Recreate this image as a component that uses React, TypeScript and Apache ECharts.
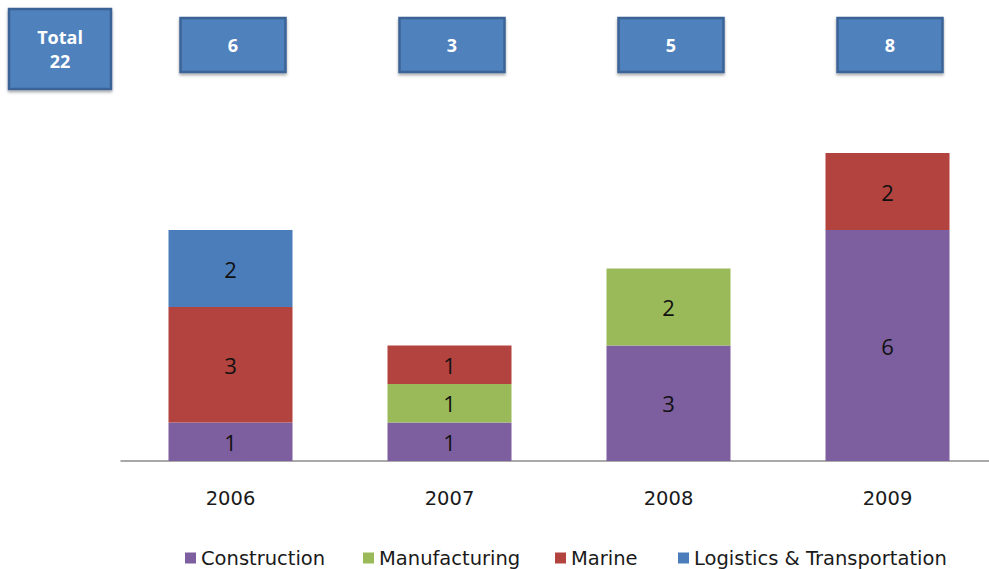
import React, { useEffect, useRef } from "react";
import * as echarts from "echarts";

const categories = ["2006", "2007", "2008", "2009"];
const construction = [1, 1, 3, 6];
const manufacturing = [null, 1, 2, null];
const marine = [3, 1, null, 2];
const logistics = [2, null, null, null];
const seriesNames = ["Construction", "Manufacturing", "Marine", "Logistics & Transportation"];
const colors = ["#7D5FA0", "#9ABA59", "#B3433F", "#4B7DBA"];
const legendLefts = [185, 363, 555, 678];

export default function App() {
  const ref = useRef<HTMLDivElement>(null);
  useEffect(() => {
    if (!ref.current) return;
    const chart = echarts.init(ref.current, null, { renderer: "svg" });
    const all = [construction, manufacturing, marine, logistics];
    const totals = categories.map((_, i) => all.reduce((s, a) => s + (a[i] || 0), 0));
    const grand = totals.reduce((s, v) => s + v, 0);
    const font = "'Open Sans', 'Noto Sans', sans-serif";
    const wideFont = "'DejaVu Sans', sans-serif";
    chart.setOption({
      animation: false,
      color: colors,
      grid: { left: 121, right: 3, top: 76, bottom: 108, containLabel: false },
      xAxis: {
        type: "category",
        data: categories,
        axisLine: { lineStyle: { color: "#8c8c8c", width: 1.5 } },
        axisTick: { show: false },
        axisLabel: { color: "#1a1a1a", fontSize: 19.5, fontFamily: wideFont, margin: 27 },
      },
      yAxis: { type: "value", min: 0, max: 10, show: false, splitLine: { show: false } },
      legend: seriesNames.map((n, i) => ({
        top: 548,
        left: legendLefts[i],
        padding: 0,
        itemWidth: 11,
        itemHeight: 11,
        icon: "rect",
        textStyle: { fontSize: 19.5, color: "#1a1a1a", fontFamily: wideFont },
        data: [n],
      })),
      series: all.map((d, i) => ({
        name: seriesNames[i],
        type: "bar",
        stack: "total",
        barWidth: 124,
        data: d,
        itemStyle: { color: colors[i] },
        label: {
          show: true,
          position: "inside",
          color: "#111",
          fontSize: 22,
          fontFamily: font,
        },
      })),
    });
    const boxes: any[] = [
      {
        type: "rect",
        shape: { x: 9, y: 9, width: 102, height: 80 },
        style: { fill: "#4F81BD", stroke: "#3B6496", lineWidth: 2.5, shadowBlur: 3, shadowOffsetY: 2, shadowColor: "rgba(0,0,0,0.35)" },
      },
      {
        type: "text",
        x: 60,
        y: 49,
        style: {
          text: "Total\n" + grand,
          fill: "#fff",
          font: "bold 18px " + font,
          align: "center",
          verticalAlign: "middle",
          lineHeight: 24,
        },
      },
    ];
    categories.forEach((c, i) => {
      const px = chart.convertToPixel({ xAxisIndex: 0 }, c) as number;
      boxes.push({
        type: "rect",
        shape: { x: px - 50, y: 18, width: 105, height: 54 },
        style: { fill: "#4F81BD", stroke: "#3B6496", lineWidth: 2.5, shadowBlur: 3, shadowOffsetY: 2, shadowColor: "rgba(0,0,0,0.35)" },
      });
      boxes.push({
        type: "text",
        x: px + 2.5,
        y: 45,
        style: {
          text: String(totals[i]),
          fill: "#fff",
          font: "bold 18px " + font,
          align: "center",
          verticalAlign: "middle",
        },
      });
    });
    chart.setOption({ graphic: boxes });
    return () => chart.dispose();
  }, []);
  return (
    <div
      style={{ position: "fixed", left: 0, top: 0, width: 989, height: 569, overflow: "hidden", background: "#fff" }}
    >
      <div ref={ref} style={{ width: 1000, height: 569 }} />
    </div>
  );
}
